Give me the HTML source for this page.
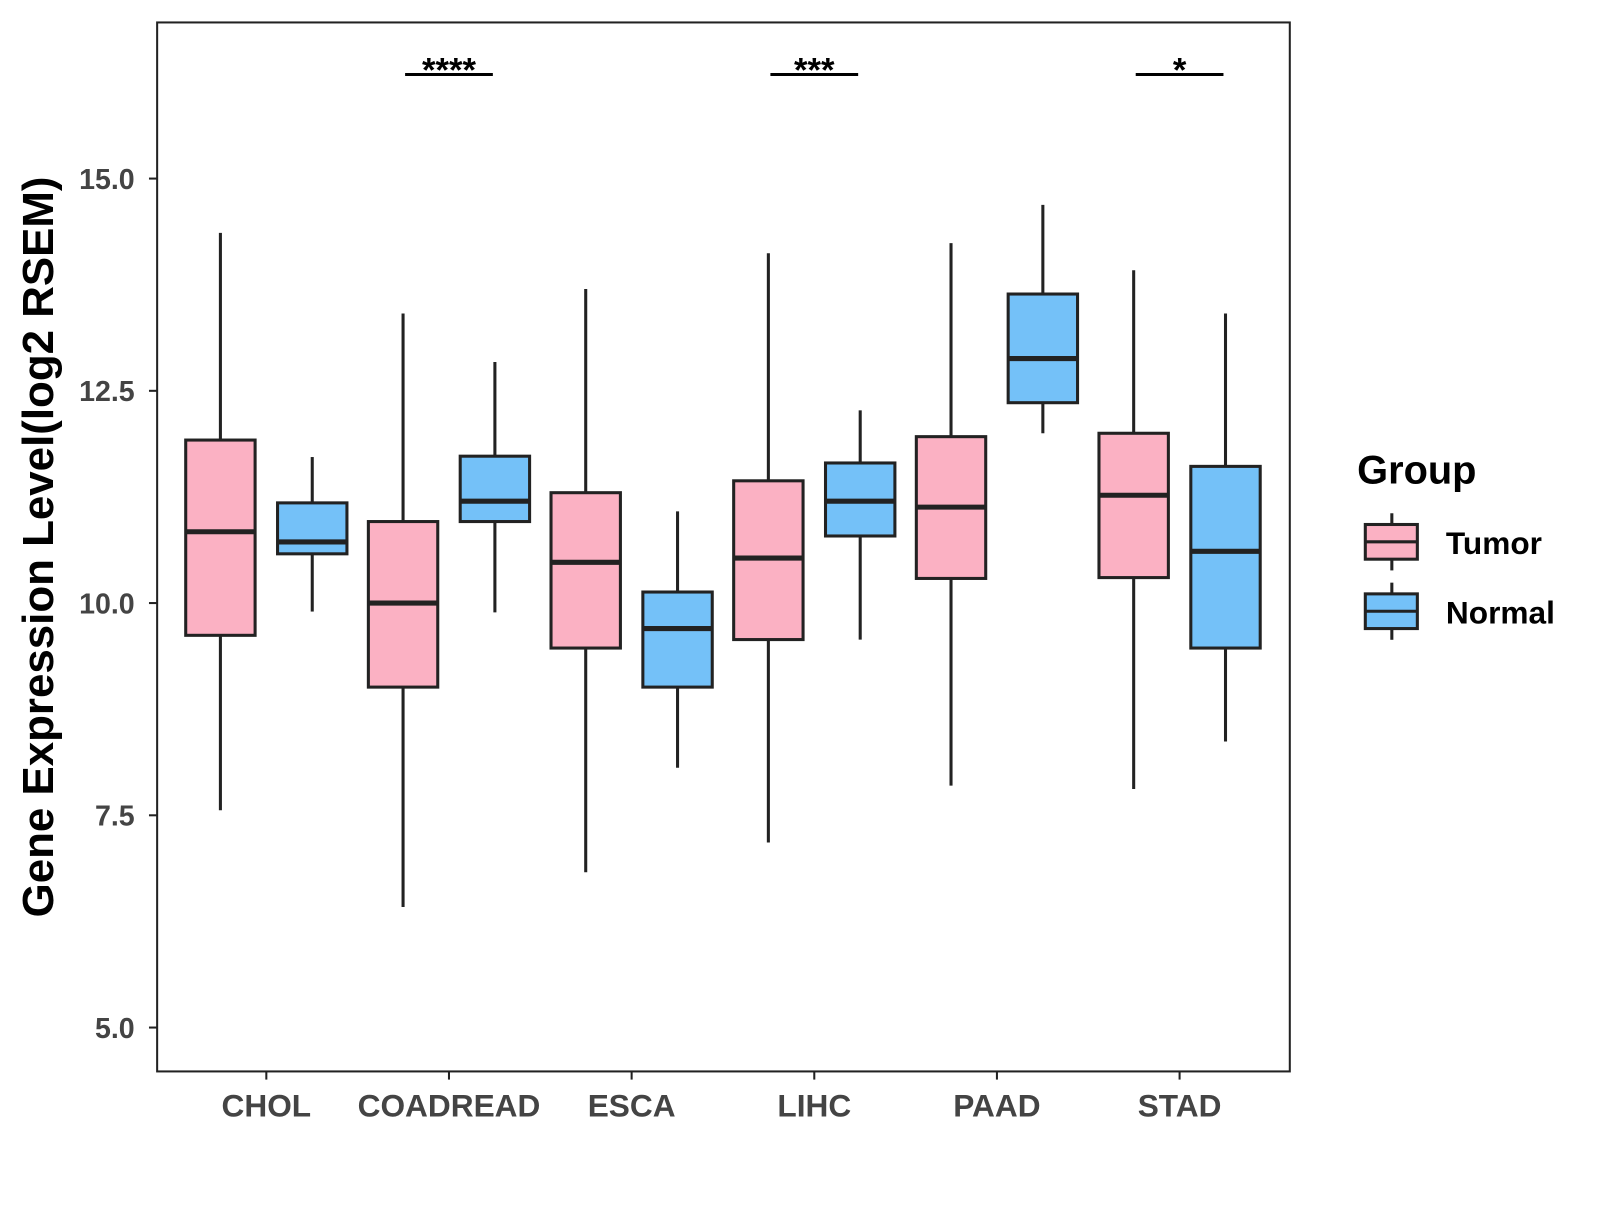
<!DOCTYPE html>
<html><head><meta charset="utf-8"><style>
body{margin:0;background:#fff}
svg text{font-family:"Liberation Sans",Arial,sans-serif;font-weight:bold}
</style></head><body>
<svg id="chart" width="1600" height="1200" viewBox="0 0 1568 1176">
<rect x="154" y="22" width="1110" height="1028" fill="#fff" stroke="#222" stroke-width="2"/>
<g id="marks"></g>
<text x="0" y="0" transform="translate(52,536) rotate(-90)" text-anchor="middle" font-size="43" fill="#000">Gene Expression Level(log2 RSEM)</text>
<g>
<text x="1330" y="474" font-size="39" fill="#000">Group</text>
<g>
<line x1="1364" y1="503" x2="1364" y2="559" stroke="#222" stroke-width="3"/>
<rect x="1338" y="514" width="51" height="34" fill="#FBB1C3" stroke="#222" stroke-width="3"/>
<line x1="1338" y1="531" x2="1389" y2="531" stroke="#222" stroke-width="3"/>
<text x="1417" y="543" font-size="31" fill="#000">Tumor</text></g>
<g>
<line x1="1364" y1="571" x2="1364" y2="627" stroke="#222" stroke-width="3"/>
<rect x="1338" y="582" width="51" height="34" fill="#74C1F8" stroke="#222" stroke-width="3"/>
<line x1="1338" y1="599" x2="1389" y2="599" stroke="#222" stroke-width="3"/>
<text x="1417" y="611" font-size="31" fill="#000">Normal</text></g>
</g>
</svg>
<script>
const categories=["CHOL","COADREAD","ESCA","LIHC","PAAD","STAD"];
const tumorLow=[7.56,6.42,6.83,7.18,7.85,7.81];
const tumorQ1=[9.62,9.01,9.47,9.57,10.29,10.3];
const tumorMed=[10.84,10.0,10.48,10.53,11.13,11.27];
const tumorQ3=[11.92,10.96,11.3,11.44,11.96,12.0];
const tumorHigh=[14.36,13.41,13.7,14.12,14.24,13.92];
const normalLow=[9.9,9.89,8.06,9.57,12.0,8.37];
const normalQ1=[10.58,10.96,9.01,10.79,12.36,9.47];
const normalMed=[10.72,11.2,9.7,11.2,12.88,10.61];
const normalQ3=[11.18,11.73,10.13,11.65,13.64,11.61];
const normalHigh=[11.72,12.84,11.08,12.27,14.69,13.41];
const signif=["","****","","***","","*"];
const yTicks=[5.0,7.5,10.0,12.5,15.0];
const yTickLabels=["5.0","7.5","10.0","12.5","15.0"];

const NS="http://www.w3.org/2000/svg";
const g=document.getElementById("marks");
function y(v){return 591-(v-10)*83.2;}
function x(i){return 261+i*179;}
function mk(tag,attrs,parent){const e=document.createElementNS(NS,tag);for(const k in attrs)e.setAttribute(k,attrs[k]);(parent||g).appendChild(e);return e;}

yTicks.forEach((t,i)=>{
  const l=mk("line",{x1:146,x2:154,y1:y(t),y2:y(t),stroke:"#222","stroke-width":2});
  
  
  const tx=mk("text",{x:132,y:y(t)+10,"text-anchor":"end","font-size":28,fill:"#444"});
  tx.textContent=yTickLabels[i];
  
  
});
categories.forEach((c,i)=>{
  const l=mk("line",{x1:x(i),x2:x(i),y1:1050,y2:1058,stroke:"#222","stroke-width":2});
  
  
  const tx=mk("text",{x:x(i),y:1094,"text-anchor":"middle","font-size":31,fill:"#444"});
  tx.textContent=c;
  
  
});
function box(cx,lo,q1,md,q3,hi,fill,name){
  const grp=mk("g",{});
  
  
  mk("line",{x1:cx,x2:cx,y1:y(hi),y2:y(q3),stroke:"#222","stroke-width":3},grp);
  mk("line",{x1:cx,x2:cx,y1:y(q1),y2:y(lo),stroke:"#222","stroke-width":3},grp);
  mk("rect",{x:cx-34,y:y(q3),width:68,height:y(q1)-y(q3),fill:fill,stroke:"#222","stroke-width":3},grp);
  mk("line",{x1:cx-34,x2:cx+34,y1:y(md),y2:y(md),stroke:"#222","stroke-width":5},grp);
}
categories.forEach((c,i)=>{
  box(x(i)-45,tumorLow[i],tumorQ1[i],tumorMed[i],tumorQ3[i],tumorHigh[i],"#FBB1C3","box-tumor-"+c.toLowerCase());
  box(x(i)+45,normalLow[i],normalQ1[i],normalMed[i],normalQ3[i],normalHigh[i],"#74C1F8","box-normal-"+c.toLowerCase());
  if(signif[i]){
    const l=mk("line",{x1:x(i)-43,x2:x(i)+43,y1:73,y2:73,stroke:"#000","stroke-width":3});
    
    
    const t=mk("text",{x:x(i),y:80,"text-anchor":"middle","font-size":34,fill:"#000"});
    t.textContent=signif[i];
    
    
  }
});
</script>
</body></html>
